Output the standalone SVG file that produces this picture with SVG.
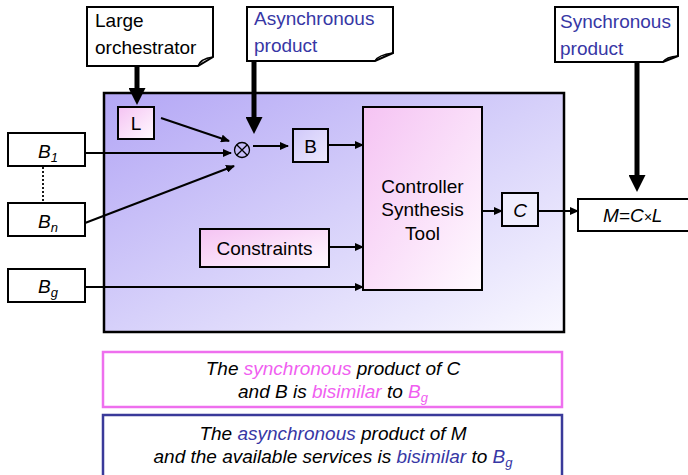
<svg xmlns="http://www.w3.org/2000/svg" width="688" height="475" viewBox="0 0 688 475">
<defs>
<linearGradient id="gBig" x1="0" y1="0" x2="1" y2="1">
<stop offset="0" stop-color="#b3a6f5"/>
<stop offset="0.5" stop-color="#d6d0fa"/>
<stop offset="1" stop-color="#f9f8ff"/>
</linearGradient>
<linearGradient id="gPink" x1="0" y1="0" x2="1" y2="1">
<stop offset="0" stop-color="#f5c3f3"/>
<stop offset="1" stop-color="#fffaff"/>
</linearGradient>
<linearGradient id="gSmall" x1="0" y1="0" x2="1" y2="1">
<stop offset="0" stop-color="#d0c8fa"/>
<stop offset="1" stop-color="#ece9fd"/>
</linearGradient>
<marker id="thin" viewBox="0 0 9 8" refX="8" refY="4" markerWidth="9" markerHeight="8" markerUnits="userSpaceOnUse" orient="auto">
<path d="M0,0 L9,4 L0,8 Z" fill="#000"/>
</marker>
<marker id="thick" viewBox="0 0 17 17" refX="1" refY="8.5" markerWidth="17" markerHeight="17" markerUnits="userSpaceOnUse" orient="auto">
<path d="M0,0 L17,8.5 L0,17 Z" fill="#000"/>
</marker>
</defs>
<style>
text{font-family:"Liberation Sans",Arial,sans-serif;font-size:19px;fill:#000}
.it{font-style:italic}
.c{text-anchor:middle}
.blue{fill:#3737a5}
.pink{fill:#f05ef0}
.sub{font-size:13px}
.box{stroke:#000;stroke-width:2}
.note{fill:#fff;stroke:#000;stroke-width:2}
.fold{fill:none;stroke:#000;stroke-width:1.5}
.thin{stroke:#000;stroke-width:2;fill:none;marker-end:url(#thin)}
.thick{stroke:#000;stroke-width:5;fill:none;marker-end:url(#thick)}
</style>

<g id="system">
<rect x="104" y="93" width="460" height="239" fill="url(#gBig)" stroke="#000" stroke-width="2.5"/>
</g>

<g id="note-large">
<path class="note" d="M87,7 H213 V57 L198,66 H87 Z"/>
<path class="fold" d="M198,66 Q200,59 213,57 M199,64 L203,60"/>
<text x="95" y="27">Large</text>
<text x="95" y="54">orchestrator</text>
</g>

<g id="note-async">
<path class="note" d="M247,7 H393 V53 L375,61 H247 Z"/>
<path class="fold" d="M375,61 Q378,55 393,53"/>
<text class="blue" x="254" y="25">Asynchronous</text>
<text class="blue" x="254" y="52">product</text>
</g>

<g id="note-sync">
<path class="note" d="M555,7 H678 V56 L663,62 H555 Z"/>
<path class="fold" d="M663,62 Q666,57 678,56"/>
<text class="blue" x="560" y="28">Synchronous</text>
<text class="blue" x="560" y="55">product</text>
</g>

<g id="L">
<rect class="box" x="118" y="107" width="36" height="32" fill="url(#gPink)"/>
<text class="c" x="136" y="130">L</text>
</g>

<g id="otimes">
<circle cx="242" cy="150" r="7.5" fill="none" stroke="#000" stroke-width="1.3"/>
<path d="M236.7,144.7 L247.3,155.3 M247.3,144.7 L236.7,155.3" stroke="#000" stroke-width="1.3"/>
</g>

<g id="B">
<rect class="box" x="293" y="129" width="35" height="33" fill="url(#gSmall)"/>
<text class="c" x="310.5" y="153">B</text>
</g>

<g id="B1">
<rect class="box" x="8" y="133" width="77" height="33" fill="#fff"/>
<text class="it" x="38" y="158">B<tspan class="sub" dy="4">1</tspan></text>
</g>

<g id="Bn">
<rect class="box" x="8" y="203" width="77" height="33" fill="#fff"/>
<text class="it" x="38" y="228">B<tspan class="sub" dy="4">n</tspan></text>
</g>

<g id="Bg">
<rect class="box" x="8" y="269" width="77" height="33" fill="#fff"/>
<text class="it" x="38" y="293">B<tspan class="sub" dy="4">g</tspan></text>
</g>

<g id="constraints">
<rect class="box" x="200" y="229" width="129" height="38" fill="url(#gPink)"/>
<text class="c" x="264.5" y="255">Constraints</text>
</g>

<g id="cst">
<rect class="box" x="363" y="107" width="119" height="183" fill="url(#gPink)"/>
<text class="c" x="422.5" y="193">Controller</text>
<text class="c" x="422.5" y="216">Synthesis</text>
<text class="c" x="422.5" y="240">Tool</text>
</g>

<g id="C">
<rect class="box" x="502" y="193" width="36" height="33" fill="#f0eefe"/>
<text class="c it" x="520" y="217">C</text>
</g>

<g id="M">
<rect class="box" x="578" y="199" width="120" height="32" fill="#fff"/>
<text class="it" x="603" y="222">M=C<tspan font-size="14">×</tspan>L</text>
</g>

<g id="connectors">
<line x1="43" y1="167" x2="43" y2="202" stroke="#000" stroke-width="1.8" stroke-dasharray="2,2"/>
<line class="thick" x1="137" y1="66" x2="137" y2="89"/>
<line class="thick" x1="254" y1="61" x2="254" y2="118"/>
<line class="thick" x1="637" y1="62" x2="637" y2="176"/>
<line class="thin" x1="161" y1="118" x2="229" y2="141"/>
<line class="thin" x1="85" y1="153" x2="231" y2="153"/>
<line class="thin" x1="85" y1="223" x2="234" y2="166"/>
<line class="thin" x1="253" y1="146" x2="288" y2="146"/>
<line class="thin" x1="328" y1="145" x2="363" y2="145"/>
<line class="thin" x1="329" y1="247" x2="363" y2="247"/>
<line class="thin" x1="85" y1="287" x2="363" y2="287"/>
<line class="thin" x1="482" y1="211" x2="502" y2="211"/>
<line class="thin" x1="538" y1="211" x2="578" y2="211"/>
</g>

<g id="cond-sync">
<rect x="103" y="352" width="459" height="55" fill="#fff" stroke="#ee6fee" stroke-width="2.5"/>
<text class="c it" x="333" y="375">The <tspan class="pink">synchronous</tspan> product of C</text>
<text class="c it" x="333" y="398">and B is <tspan class="pink">bisimilar</tspan> to <tspan class="pink">B</tspan><tspan class="pink sub" dy="4">g</tspan></text>
</g>

<g id="cond-async">
<rect x="103" y="415" width="459" height="70" fill="#fff" stroke="#3a3a9a" stroke-width="2.5"/>
<text class="c it" x="333" y="440">The <tspan class="blue">asynchronous</tspan> product of M</text>
<text class="c it" x="333" y="463">and the available services is <tspan class="blue">bisimilar</tspan> to <tspan class="blue">B</tspan><tspan class="blue sub" dy="4">g</tspan></text>
</g>
</svg>
